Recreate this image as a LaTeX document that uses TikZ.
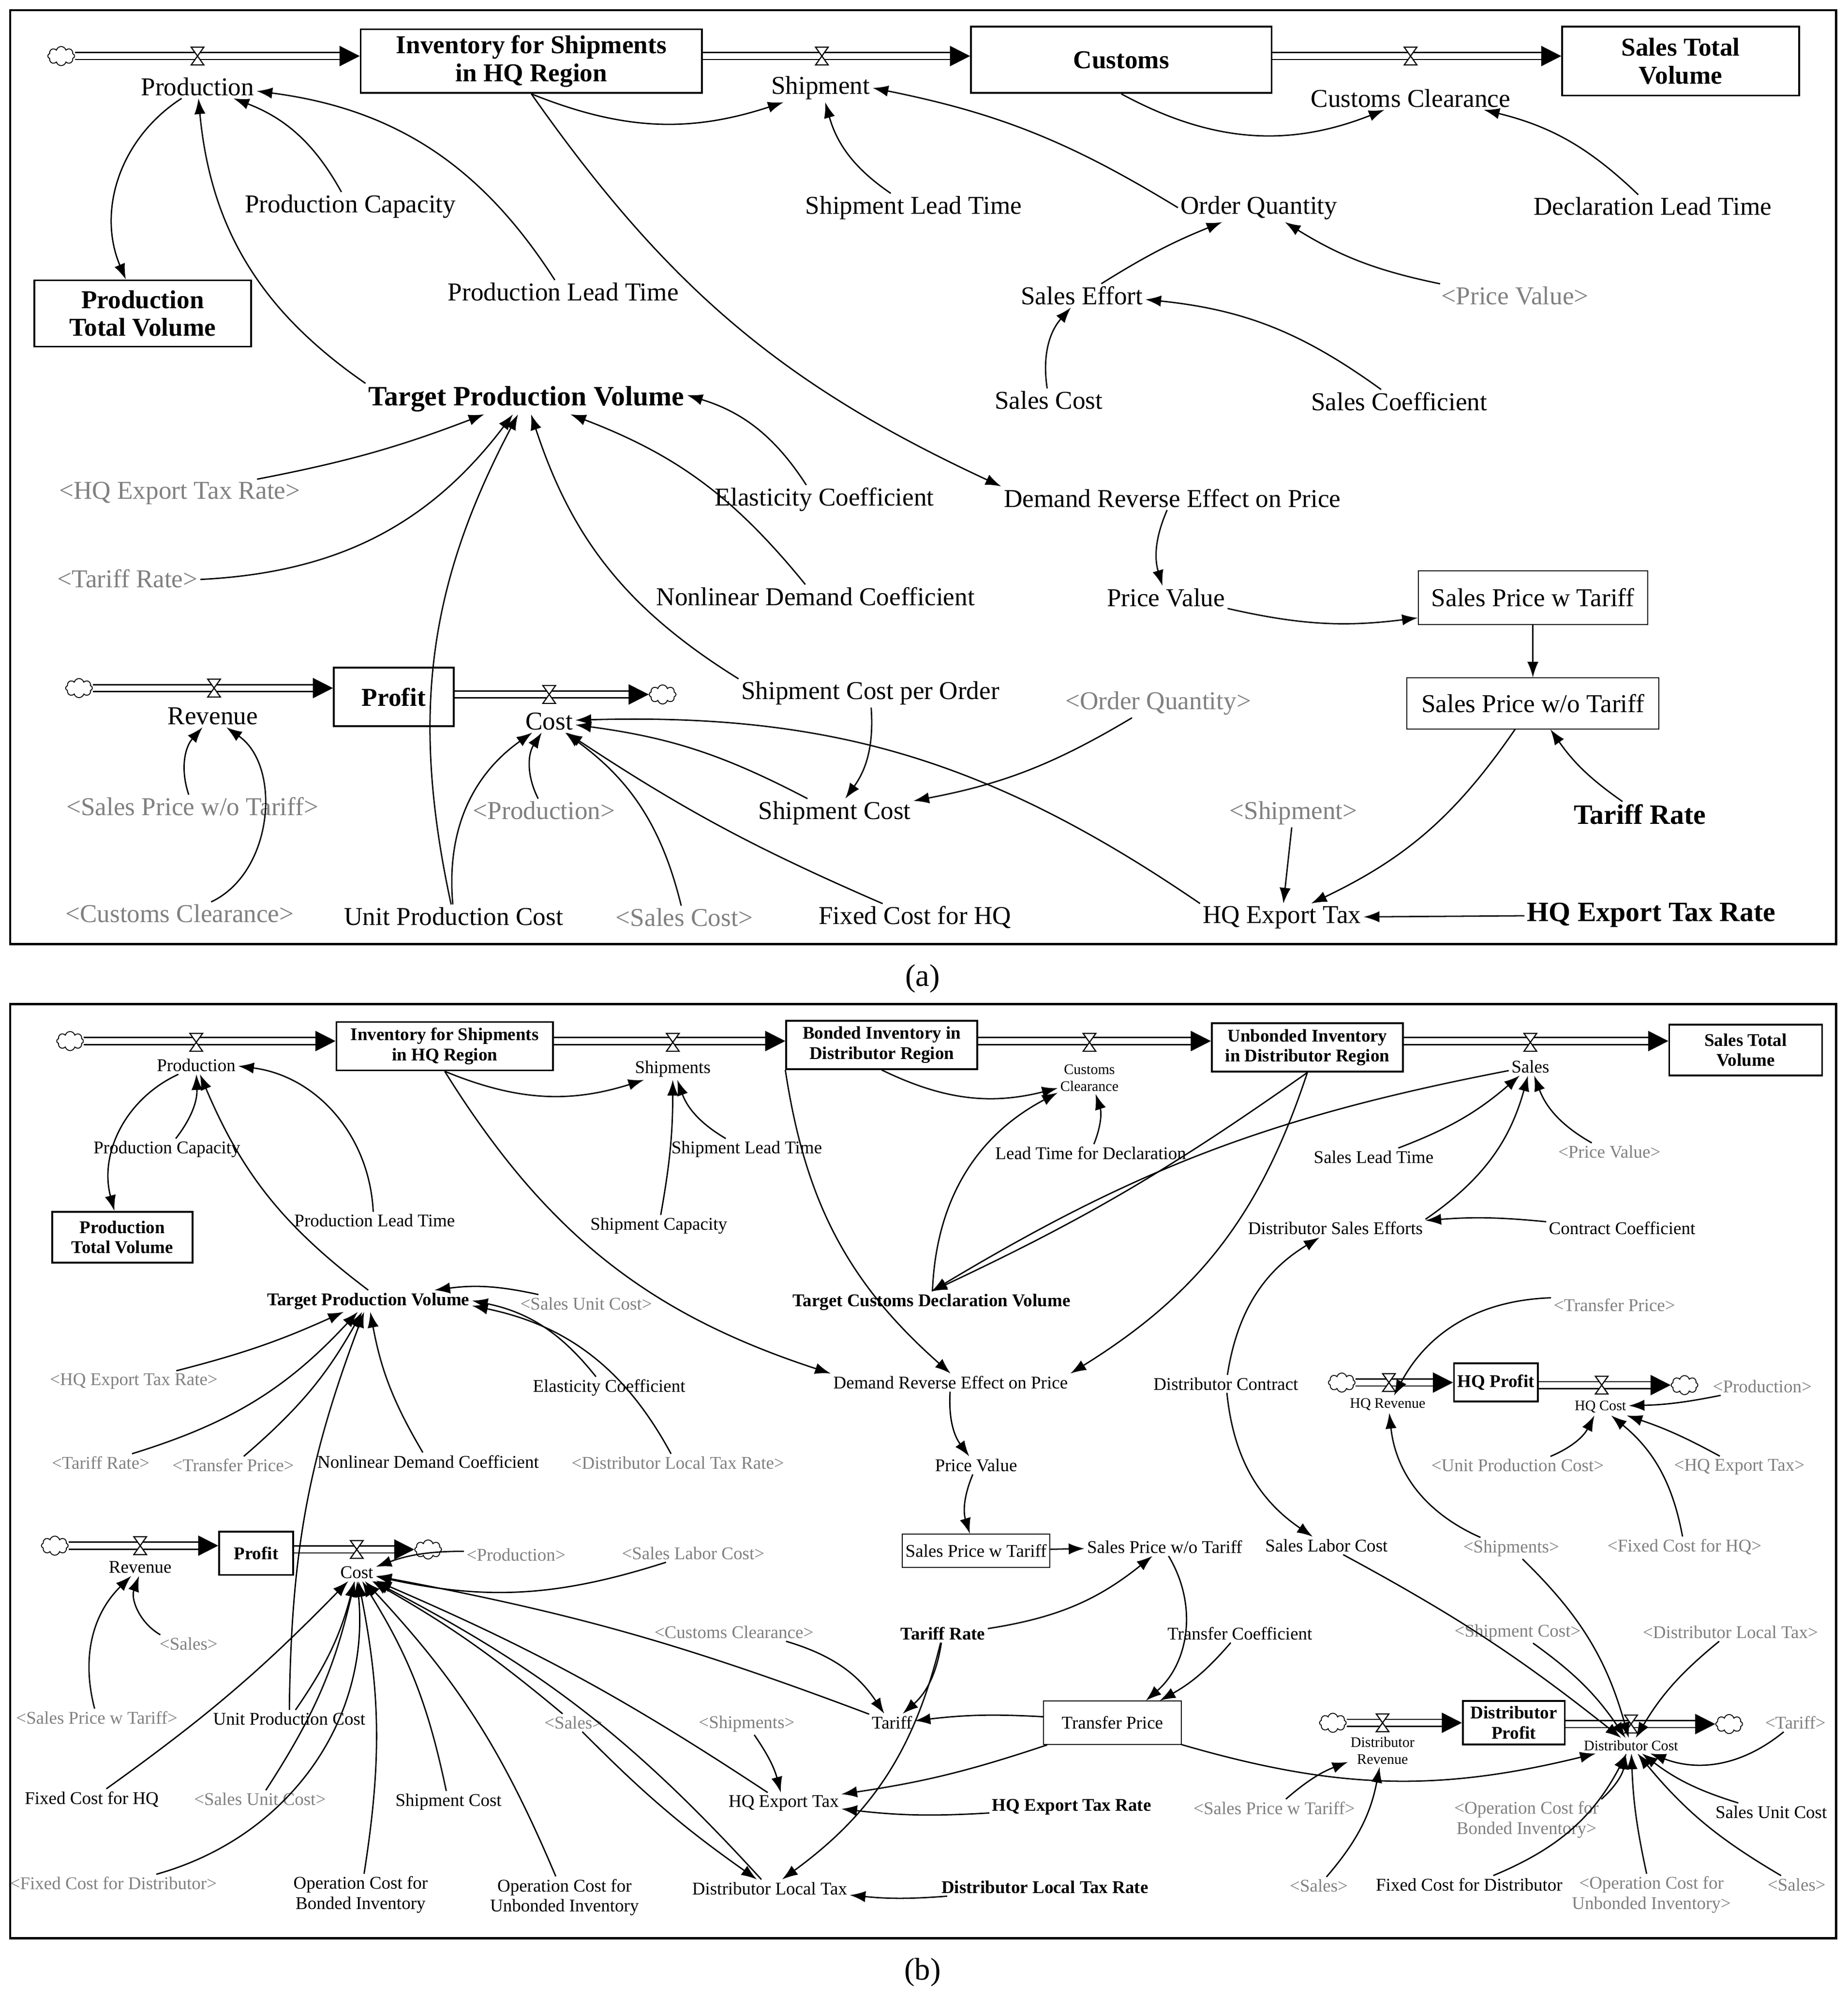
\documentclass[tikz,border=0pt]{standalone}
\usepackage{fontspec}
\setmainfont{Liberation Serif}
\usetikzlibrary{arrows.meta,shapes.symbols}
\tikzset{>/.tip={Latex[length=7pt,width=5pt]}}
\newcommand\fa{\fontsize{11.5}{12.5}\selectfont}
\newcommand\fb{\fontsize{8}{9}\selectfont}
\tikzset{
  va/.style={inner sep=1pt,font=\fa,align=center},
  sa/.style={va,text=gray},
  ba/.style={va,font=\fa\bfseries},
  vb/.style={inner sep=1pt,font=\fb,align=center},
  sb/.style={vb,text=gray},
  bb/.style={vb,font=\fb\bfseries},
  stka/.style={draw,line width=0.8pt,font=\fa\bfseries,align=center,inner sep=1pt},
  stkb/.style={draw,line width=0.8pt,font=\fb\bfseries,align=center,inner sep=1pt},
  sky/.style={cloud,draw,cloud puffs=8,minimum width=0.42cm,minimum height=0.3cm,inner sep=0pt},
  flow/.style={double distance=2.5pt,line width=0.6pt,-{Triangle[length=9pt,width=9pt]}},
  cl/.style={->,line width=0.6pt},
  valve/.pic={\draw[fill=white,line width=0.5pt] (-5,-7)--(5,-7)--(-5,7)--(5,7)--cycle;}
}
\begin{document}
\begin{tikzpicture}[x=0.02cm,y=-0.02cm]
\useasboundingbox (0,0) rectangle (1450,1568);
\draw[line width=1pt] (8,8) rectangle (1441,741);
\draw[line width=1pt] (8,788) rectangle (1441,1521);
\node[font=\fontsize{14}{16}\selectfont] (lblA) at (724,768) {(a)};
\node[font=\fontsize{14}{16}\selectfont] (lblB) at (724,1548) {(b)};

% ---- panel (a): stocks and flows
\node[sky] (aC1) at (48,44) {};
\node[stka,minimum width=5.36cm,minimum height=1cm] (aInv) at (417,48) {Inventory for Shipments\\in HQ Region};
\node[stka,minimum width=4.72cm,minimum height=1.04cm] (aCus) at (880,47) {Customs};
\node[stka,minimum width=3.72cm,minimum height=1.08cm] (aSTV) at (1319,48) {Sales Total\\Volume};
\node[stka,minimum width=3.4cm,minimum height=1.04cm] (aPTV) at (112,246) {Production\\Total Volume};
\node[stka,minimum width=1.88cm,minimum height=0.92cm] (aPro) at (309,547) {Profit};
\node[sky] (aC2) at (62,540) {};
\node[sky] (aC3) at (520,545) {};
\draw[flow] (aC1) -- (aInv.west|-aC1);
\draw[flow] (aInv.east|-aC1) -- (aCus.west|-aC1);
\draw[flow] (aCus.east|-aC1) -- (aSTV.west|-aC1);
\draw[flow] (aC2) -- (aPro.west|-aC2);
\draw[flow] (aPro.east|-aC3) -- (aC3);
\pic at (155,44) {valve};
\pic at (645,44) {valve};
\pic at (1107,44) {valve};
\pic at (168,540) {valve};
\pic at (431,545) {valve};

% ---- panel (a): variables
\node[va] (aProd) at (155,68) {Production};
\node[va] (aShip) at (644,69) {Shipment};
\node[va] (aCC) at (1107,77) {Customs Clearance};
\node[va] (aPC) at (275,162) {Production Capacity};
\node[va] (aPLT) at (442,229) {Production Lead Time};
\node[ba,font=\fontsize{12.5}{14}\selectfont\bfseries] (aTPV) at (413,313) {Target Production Volume};
\node[va] (aSLT) at (717,163) {Shipment Lead Time};
\node[va] (aOQ) at (988,163) {Order Quantity};
\node[va] (aDLT) at (1297,162) {Declaration Lead Time};
\node[va] (aSE) at (849,232) {Sales Effort};
\node[sa] (aPVs) at (1189,232) {<Price Value>};
\node[va] (aSC) at (823,314) {Sales Cost};
\node[va] (aSCo) at (1098,315) {Sales Coefficient};
\node[sa] (aHTRs) at (141,387) {<HQ Export Tax Rate>};
\node[va] (aEC) at (647,392) {Elasticity Coefficient};
\node[va] (aDRE) at (920,391) {Demand Reverse Effect on Price};
\node[sa] (aTRs) at (100,454) {<Tariff Rate>};
\node[va] (aNDC) at (640,468) {Nonlinear Demand Coefficient};
\node[va] (aPV) at (915,469) {Price Value};
\node[draw,va,minimum width=3.6cm,minimum height=0.84cm] (aSPwT) at (1203,469) {Sales Price w Tariff};
\node[va] (aRev) at (167,562) {Revenue};
\node[va] (aCost) at (431,566) {Cost};
\node[va] (aSCPO) at (683,544) {Shipment Cost per Order};
\node[sa] (aOQs) at (909,552) {<Order Quantity>};
\node[draw,va,minimum width=3.96cm,minimum height=0.8cm] (aSPwoT) at (1203,552) {Sales Price w/o Tariff};
\node[sa] (aSPs) at (151,633) {<Sales Price w/o Tariff>};
\node[sa] (aProds) at (427,636) {<Production>};
\node[va] (aSCost) at (655,638) {Shipment Cost};
\node[sa] (aShips) at (1015,638) {<Shipment>};
\node[ba,font=\fontsize{12.5}{14}\selectfont\bfseries] (aTR) at (1287,639) {Tariff Rate};
\node[sa] (aCCs) at (141,717) {<Customs Clearance>};
\node[va] (aUPC) at (356,719) {Unit Production Cost};
\node[sa] (aSCs) at (537,720) {<Sales Cost>};
\node[va] (aFCH) at (718,720) {Fixed Cost for HQ};
\node[va] (aHET) at (1006,720) {HQ Export Tax};
\node[ba,font=\fontsize{12.5}{14}\selectfont\bfseries] (aHETR) at (1296,718) {HQ Export Tax Rate};

% ---- panel (a): links
\draw[cl] (aProd) to[bend right=40] (aPTV);
\draw[cl] (aPC) to[bend right=20] (aProd);
\draw[cl] (aPLT) to[bend right=25] (aProd);
\draw[cl] (aTPV.north west) to[bend left=25] (aProd);
\draw[cl] (aInv.south) to[bend right=20] (aShip);
\draw[cl] (aInv.south) to[bend right=15] (aDRE.north west);
\draw[cl] (aCus.south) to[bend right=25] (aCC);
\draw[cl] (aSLT) to[bend left=20] (aShip);
\draw[cl] (aOQ.west) to[bend right=10] (aShip.east);
\draw[cl] (aDLT) to[bend right=15] (aCC);
\draw[cl] (aSE) to[bend left=5] (aOQ);
\draw[cl] (aPVs) to[bend left=10] (aOQ);
\draw[cl] (aSC) to[bend left=25] (aSE);
\draw[cl] (aSCo) to[bend right=15] (aSE);
\draw[cl] (aHTRs) to[bend right=5] (aTPV);
\draw[cl] (aTRs) to[bend right=25] (aTPV);
\draw[cl] (aEC) to[bend right=20] (aTPV);
\draw[cl] (aNDC) to[bend right=15] (aTPV);
\draw[cl] (aSCPO.north west) to[bend left=20] (aTPV);
\draw[cl] (aUPC) to[bend left=20] (aTPV);
\draw[cl] (aDRE) to[bend right=20] (aPV);
\draw[cl] (aPV) to[bend right=10] (aSPwT);
\draw[cl] (aSPwT) -- (aSPwoT);
\draw[cl] (aTR) to[bend left=10] (aSPwoT);
\draw[cl] (aSPwoT) to[bend left=15] (aHET);
\draw[cl] (aSPs) to[bend left=30] (aRev);
\draw[cl] (aCCs) to[bend right=60] (aRev);
\draw[cl] (aProds) to[bend left=30] (aCost);
\draw[cl] (aUPC) to[bend left=30] (aCost);
\draw[cl] (aSCs) to[bend right=20] (aCost);
\draw[cl] (aFCH) to[bend left=5] (aCost);
\draw[cl] (aSCost) to[bend right=10] (aCost);
\draw[cl] (aHET.north west) to[bend right=18] (aCost);
\draw[cl] (aSCPO) to[bend left=20] (aSCost);
\draw[cl] (aOQs) to[bend left=10] (aSCost);
\draw[cl] (aShips) -- (aHET);
\draw[cl] (aHETR) -- (aHET);

% ---- panel (b): stocks and flows
\node[sky] (bC1) at (55,817) {};
\node[stkb,minimum width=3.4cm,minimum height=0.76cm] (bInv) at (349,821) {Inventory for Shipments\\in HQ Region};
\node[stkb,minimum width=3cm,minimum height=0.76cm] (bBon) at (692,820) {Bonded Inventory in\\Distributor Region};
\node[stkb,minimum width=3cm,minimum height=0.76cm] (bUnb) at (1026,822) {Unbonded Inventory\\in Distributor Region};
\node[stkb,minimum width=2.4cm,minimum height=0.8cm] (bSTV) at (1370,824) {Sales Total\\Volume};
\node[stkb,minimum width=2.2cm,minimum height=0.8cm] (bPTV) at (96,971) {Production\\Total Volume};
\node[stkb,minimum width=1.32cm,minimum height=0.6cm] (bHQP) at (1174,1085) {HQ Profit};
\node[sky] (bC2) at (1053,1085) {};
\node[sky] (bC3) at (1322,1087) {};
\node[stkb,minimum width=1.16cm,minimum height=0.68cm] (bPro) at (201,1219) {Profit};
\node[sky] (bC4) at (43,1213) {};
\node[sky] (bC5) at (336,1216) {};
\node[stkb,minimum width=1.6cm,minimum height=0.68cm] (bDP) at (1188,1352) {Distributor\\Profit};
\node[sky] (bC6) at (1046,1352) {};
\node[sky] (bC7) at (1357,1353) {};
\draw[flow] (bC1) -- (bInv.west|-bC1);
\draw[flow] (bInv.east|-bC1) -- (bBon.west|-bC1);
\draw[flow] (bBon.east|-bC1) -- (bUnb.west|-bC1);
\draw[flow] (bUnb.east|-bC1) -- (bSTV.west|-bC1);
\draw[flow] (bC2) -- (bHQP.west|-bC2);
\draw[flow] (bHQP.east|-bC3) -- (bC3);
\draw[flow] (bC4) -- (bPro.west|-bC4);
\draw[flow] (bPro.east|-bC5) -- (bC5);
\draw[flow] (bC6) -- (bDP.west|-bC6);
\draw[flow] (bDP.east|-bC7) -- (bC7);
\pic at (154,818) {valve};
\pic at (528,818) {valve};
\pic at (855,818) {valve};
\pic at (1201,818) {valve};
\pic at (1090,1085) {valve};
\pic at (1257,1087) {valve};
\pic at (110,1213) {valve};
\pic at (280,1216) {valve};
\pic at (1085,1352) {valve};
\pic at (1280,1353) {valve};

% ---- panel (b): variables
\node[vb] (bProd) at (154,836) {Production};
\node[vb] (bShip) at (528,839) {Shipments};
\node[vb,font=\fontsize{6.5}{7.5}\selectfont] (bCC) at (855,846) {Customs\\Clearance};
\node[vb] (bSales) at (1201,837) {Sales};
\node[vb] (bPC) at (131,902) {Production Capacity};
\node[vb] (bPLT) at (294,958) {Production Lead Time};
\node[vb] (bSLT) at (586,902) {Shipment Lead Time};
\node[vb] (bSCap) at (517,962) {Shipment Capacity};
\node[vb] (bLTD) at (856,905) {Lead Time for Declaration};
\node[vb] (bSaLT) at (1078,908) {Sales Lead Time};
\node[sb] (bPVs) at (1263,904) {<Price Value>};
\node[vb] (bDSE) at (1048,964) {Distributor Sales Efforts};
\node[vb] (bCCo) at (1273,964) {Contract Coefficient};
\node[bb] (bTPV) at (289,1021) {Target Production Volume};
\node[sb] (bSUCs) at (460,1023) {<Sales Unit Cost>};
\node[bb] (bTCDV) at (731,1022) {Target Customs Declaration Volume};
\node[sb] (bTPs) at (1267,1024) {<Transfer Price>};
\node[sb] (bHTRs) at (105,1084) {<HQ Export Tax Rate>};
\node[vb] (bEC) at (478,1089) {Elasticity Coefficient};
\node[vb] (bDRE) at (746,1085) {Demand Reverse Effect on Price};
\node[vb] (bDC) at (962,1086) {Distributor Contract};
\node[vb,font=\fontsize{6.5}{7.5}\selectfont] (bHQR) at (1089,1102) {HQ Revenue};
\node[vb,font=\fontsize{6.5}{7.5}\selectfont] (bHQC) at (1256,1104) {HQ Cost};
\node[sb] (bProds1) at (1383,1088) {<Production>};
\node[sb] (bTRs) at (79,1148) {<Tariff Rate>};
\node[sb] (bTPs2) at (183,1150) {<Transfer Price>};
\node[vb] (bNDC) at (336,1147) {Nonlinear Demand Coefficient};
\node[sb] (bDLTRs) at (532,1148) {<Distributor Local Tax Rate>};
\node[vb] (bPV) at (766,1150) {Price Value};
\node[sb] (bUPCs) at (1191,1150) {<Unit Production Cost>};
\node[sb] (bHETs) at (1365,1151) {<HQ Export Tax>};
\node[vb] (bRev) at (110,1230) {Revenue};
\node[vb] (bCost) at (280,1234) {Cost};
\node[sb] (bProds2) at (405,1220) {<Production>};
\node[sb] (bSLCs) at (544,1219) {<Sales Labor Cost>};
\node[draw,vb,minimum width=2.32cm,minimum height=0.52cm] (bSPwT) at (766,1217) {Sales Price w Tariff};
\node[vb] (bSPwoT) at (914,1214) {Sales Price w/o Tariff};
\node[vb] (bSLC) at (1041,1213) {Sales Labor Cost};
\node[sb] (bShips1) at (1186,1215) {<Shipments>};
\node[sb] (bFCHs) at (1322,1214) {<Fixed Cost for HQ>};
\node[sb] (bSaless1) at (148,1290) {<Sales>};
\node[sb] (bCCs) at (576,1281) {<Customs Clearance>};
\node[bb] (bTR) at (740,1282) {Tariff Rate};
\node[vb] (bTC) at (973,1282) {Transfer Coefficient};
\node[sb] (bSCs) at (1191,1281) {<Shipment Cost>};
\node[sb] (bDLTs) at (1358,1281) {<Distributor Local Tax>};
\node[sb] (bSPwTs1) at (76,1348) {<Sales Price w Tariff>};
\node[vb] (bUPC) at (227,1349) {Unit Production Cost};
\node[sb] (bSaless2) at (450,1352) {<Sales>};
\node[sb] (bShips2) at (586,1353) {<Shipments>};
\node[vb] (bTar) at (700,1352) {Tariff};
\node[draw,vb,minimum width=2.16cm,minimum height=0.68cm] (bTP) at (873,1352) {Transfer Price};
\node[vb,font=\fontsize{6.5}{7.5}\selectfont] (bDR) at (1085,1374) {Distributor\\Revenue};
\node[vb,font=\fontsize{6.5}{7.5}\selectfont] (bDCost) at (1280,1370) {Distributor Cost};
\node[sb] (bTars) at (1409,1352) {<Tariff>};
\node[vb] (bFCH) at (72,1412) {Fixed Cost for HQ};
\node[sb] (bSUCs2) at (204,1412) {<Sales Unit Cost>};
\node[vb] (bShC) at (352,1414) {Shipment Cost};
\node[vb] (bHET) at (615,1415) {HQ Export Tax};
\node[bb] (bHETR) at (841,1418) {HQ Export Tax Rate};
\node[sb] (bSPwTs2) at (1000,1419) {<Sales Price w Tariff>};
\node[sb] (bOCBs) at (1198,1428) {<Operation Cost for\\Bonded Inventory>};
\node[vb] (bSUC) at (1390,1422) {Sales Unit Cost};
\node[sb] (bFCDs) at (89,1478) {<Fixed Cost for Distributor>};
\node[vb] (bOCB) at (283,1487) {Operation Cost for\\Bonded Inventory};
\node[vb] (bOCU) at (443,1489) {Operation Cost for\\Unbonded Inventory};
\node[vb] (bDLT) at (604,1482) {Distributor Local Tax};
\node[bb] (bDLTR) at (820,1481) {Distributor Local Tax Rate};
\node[sb] (bSaless3) at (1035,1480) {<Sales>};
\node[vb] (bFCD) at (1153,1479) {Fixed Cost for Distributor};
\node[sb] (bOCUs) at (1296,1487) {<Operation Cost for\\Unbonded Inventory>};
\node[sb] (bSaless4) at (1410,1479) {<Sales>};

% ---- panel (b): links
\draw[cl] (bProd) to[bend right=40] (bPTV);
\draw[cl] (bPC) to[bend right=20] (bProd);
\draw[cl] (bPLT) to[bend right=40] (bProd);
\draw[cl] (bTPV.north) to[bend left=15] (bProd);
\draw[cl] (bInv.south) to[bend right=20] (bShip);
\draw[cl] (bInv.south) to[bend right=20] (bDRE.north west);
\draw[cl] (bSLT) to[bend left=20] (bShip);
\draw[cl] (bSCap) to[bend right=5] (bShip);
\draw[cl] (bBon.south) to[bend right=20] (bCC);
\draw[cl] (bBon.south west) to[bend right=20] (bDRE.north);
\draw[cl] (bLTD) to[bend right=20] (bCC);
\draw[cl] (bTCDV) to[bend left=30] (bCC);
\draw[cl] (bUnb.south) to[bend left=5] (bTCDV.north);
\draw[cl] (bUnb.south) to[bend left=20] (bDRE.north east);
\draw[cl] (bSaLT) to[bend right=10] (bSales);
\draw[cl] (bDSE.north east) to[bend right=20] (bSales);
\draw[cl] (bPVs) to[bend left=20] (bSales);
\draw[cl] (bSales) to[bend right=10] (bTCDV.north);
\draw[cl] (bCCo) to[bend right=5] (bDSE);
\draw[cl] (bDC) to[bend left=25] (bDSE);
\draw[cl] (bDC) to[bend right=25] (bSLC);
\draw[cl] (bHTRs) to[bend right=5] (bTPV);
\draw[cl] (bTRs) to[bend right=15] (bTPV);
\draw[cl] (bTPs2) to[bend right=10] (bTPV);
\draw[cl] (bNDC) to[bend left=10] (bTPV);
\draw[cl] (bEC) to[bend right=20] (bTPV);
\draw[cl] (bSUCs) to[bend right=10] (bTPV);
\draw[cl] (bDLTRs) to[bend right=25] (bTPV);
\draw[cl] (bUPC) to[bend left=10] (bTPV);
\draw[cl] (bDRE) to[bend right=20] (bPV);
\draw[cl] (bPV) to[bend right=20] (bSPwT);
\draw[cl] (bSPwT) -- (bSPwoT);
\draw[cl] (bTR) to[bend right=15] (bSPwoT);
\draw[cl] (bSPwoT) to[bend left=40] (bTP);
\draw[cl] (bTC) to[bend left=10] (bTP);
\draw[cl] (bTPs) to[bend right=30] (bHQR);
\draw[cl] (bShips1) to[bend left=30] (bHQR);
\draw[cl] (bProds1) to[bend left=5] (bHQC);
\draw[cl] (bUPCs) to[bend right=20] (bHQC);
\draw[cl] (bHETs) to[bend right=5] (bHQC);
\draw[cl] (bFCHs) to[bend right=20] (bHQC);
\draw[cl] (bTP) to[bend right=5] (bTar);
\draw[cl] (bTR) to[bend left=20] (bTar);
\draw[cl] (bCCs) to[bend left=20] (bTar);
\draw[cl] (bTP) to[bend left=5] (bHET);
\draw[cl] (bHETR) to[bend left=5] (bHET);
\draw[cl] (bShips2) to[bend left=10] (bHET);
\draw[cl] (bTP) to[bend right=15] (bDCost);
\draw[cl] (bTR) to[bend left=20] (bDLT);
\draw[cl] (bDLTR) to[bend left=5] (bDLT);
\draw[cl] (bSaless2) to[bend right=5] (bDLT);
\draw[cl] (bProds2) to[bend right=10] (bCost);
\draw[cl] (bSLCs) to[bend left=15] (bCost);
\draw[cl] (bTar) to[bend right=5] (bCost);
\draw[cl] (bHET) to[bend right=5] (bCost);
\draw[cl] (bDLT) to[bend right=10] (bCost);
\draw[cl] (bSaless2) to[bend right=5] (bCost);
\draw[cl] (bOCU) to[bend right=10] (bCost);
\draw[cl] (bOCB) to[bend right=10] (bCost);
\draw[cl] (bShC) to[bend right=10] (bCost);
\draw[cl] (bSUCs2) to[bend right=10] (bCost);
\draw[cl] (bFCH) to[bend right=5] (bCost);
\draw[cl] (bFCDs) to[bend right=40] (bCost);
\draw[cl] (bUPC) to[bend right=10] (bCost);
\draw[cl] (bSPwTs1) to[bend left=30] (bRev);
\draw[cl] (bSaless1) to[bend left=40] (bRev);
\draw[cl] (bSPwTs2) to[bend left=10] (bDR);
\draw[cl] (bSaless3) to[bend right=15] (bDR);
\draw[cl] (bSLC) to[bend left=5] (bDCost);
\draw[cl] (bShips1) to[bend left=15] (bDCost);
\draw[cl] (bSCs) to[bend left=10] (bDCost);
\draw[cl] (bDLTs) to[bend right=10] (bDCost);
\draw[cl] (bTars) to[bend left=30] (bDCost);
\draw[cl] (bSUC) to[bend left=10] (bDCost);
\draw[cl] (bOCBs) to[bend right=20] (bDCost);
\draw[cl] (bFCD) to[bend right=20] (bDCost);
\draw[cl] (bOCUs) to[bend left=5] (bDCost);
\draw[cl] (bSaless4) to[bend left=10] (bDCost);
\end{tikzpicture}
\end{document}
